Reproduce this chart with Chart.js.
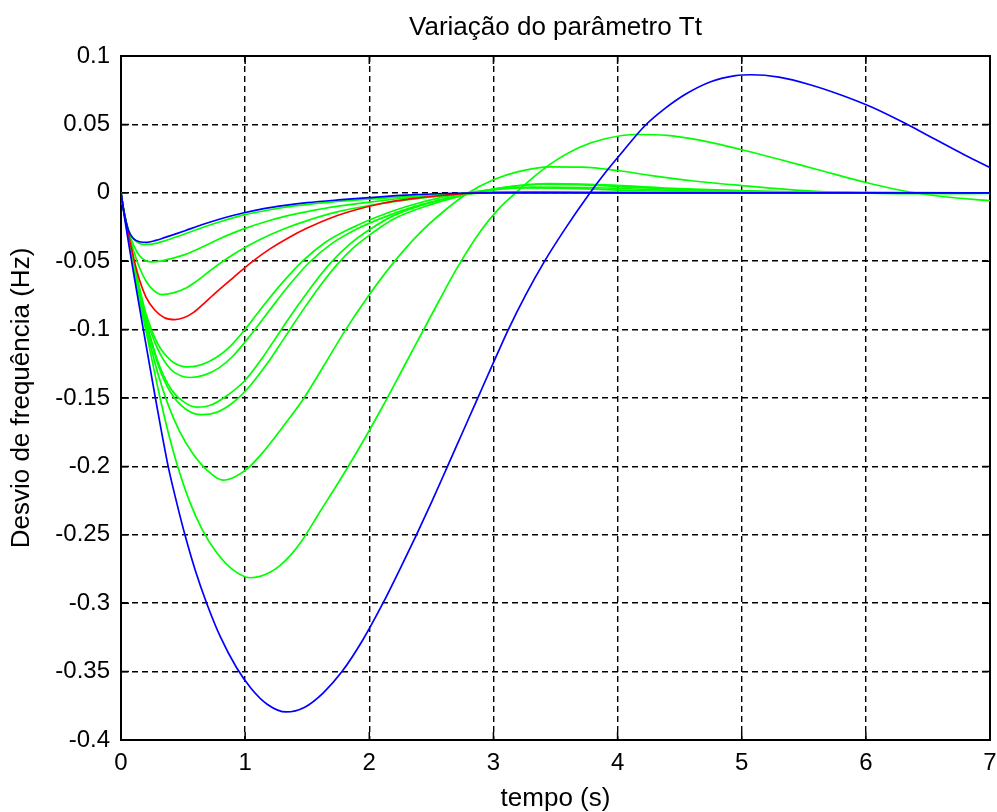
<!DOCTYPE html>
<html>
<head>
<meta charset="utf-8">
<script src="https://cdn.jsdelivr.net/npm/chart.js@4"></script>
<style>
  body { margin: 0; background: #fff; }
  #wrap { width: 997px; height: 812px; }
</style>
</head>
<body>
<div id="wrap"><canvas id="chart" width="997" height="812"></canvas></div>
<script>
// curves: time (s) and frequency deviation (Hz)
const tBlueBig = [0, 0.02, 0.06, 0.1, 0.18, 0.277, 0.38, 0.45, 0.515, 0.6, 0.69, 0.8, 0.93, 1.05, 1.18, 1.33, 1.48, 1.63, 1.78, 1.95, 2.11, 2.25, 2.38, 2.5, 2.63, 2.75, 2.87, 3.0, 3.12, 3.26, 3.41, 3.58, 3.76, 3.9, 4.05, 4.22, 4.38, 4.55, 4.75, 4.95, 5.08, 5.3, 5.55, 5.8, 6.05, 6.3, 6.55, 6.8, 7.0];
const vBlueBig = [0, -0.013, -0.036, -0.058, -0.1, -0.15, -0.2, -0.227, -0.25, -0.2765, -0.3, -0.3245, -0.347, -0.3625, -0.374, -0.3795, -0.376, -0.3655, -0.35, -0.3265, -0.3, -0.2745, -0.25, -0.2265, -0.2, -0.1754, -0.1508, -0.1242, -0.1, -0.0746, -0.0503, -0.026, -0.0024, 0.0146, 0.0311, 0.049, 0.0615, 0.0722, 0.0812, 0.0857, 0.0863, 0.0845, 0.079, 0.0715, 0.0625, 0.0515, 0.0395, 0.0275, 0.0185];

const tBlueSmall = [0, 0.02, 0.06, 0.1, 0.15, 0.207, 0.28, 0.35, 0.43, 0.516, 0.65, 0.785, 0.9, 1.0, 1.15, 1.32, 1.5, 1.75, 2.0, 2.3, 2.6, 3.0, 7.0];
const vBlueSmall = [0, -0.012, -0.0275, -0.0335, -0.0358, -0.0362, -0.0348, -0.0328, -0.0304, -0.0277, -0.0234, -0.0195, -0.0166, -0.0144, -0.0116, -0.0092, -0.0072, -0.0052, -0.0035, -0.0017, -0.0005, 0, 0];

const tRed = [0, 0.02, 0.06, 0.1, 0.15, 0.2, 0.27, 0.35, 0.435, 0.51, 0.585, 0.665, 0.746, 0.907, 1.055, 1.2, 1.35, 1.5, 1.7, 1.9, 2.1, 2.33, 2.6, 2.9, 3.3, 3.8, 4.5, 7.0];
const vRed = [0, -0.012, -0.03, -0.047, -0.064, -0.076, -0.0855, -0.0913, -0.0927, -0.0912, -0.0874, -0.0812, -0.0744, -0.0618, -0.0505, -0.041, -0.0328, -0.0258, -0.018, -0.0122, -0.0078, -0.0045, -0.0018, 0.0002, 0.0006, 0.0002, 0, 0];

const tG1 = [0, 0.02, 0.06, 0.1, 0.15, 0.19, 0.25, 0.35, 0.5, 0.65, 0.785, 1.0, 1.2, 1.4, 1.6, 1.8, 2.0, 2.3, 2.6, 3.0, 3.6, 4.5, 7.0];
const vG1 = [0, -0.012, -0.027, -0.0335, -0.037, -0.0378, -0.0375, -0.0352, -0.0305, -0.0255, -0.0215, -0.016, -0.0124, -0.0096, -0.0075, -0.0059, -0.0046, -0.0028, -0.0012, 0.0001, 0.0002, 0, 0];

const tG2 = [0, 0.02, 0.06, 0.1, 0.15, 0.2, 0.25, 0.33, 0.42, 0.52, 0.65, 0.785, 0.9, 1.0, 1.15, 1.32, 1.5, 1.75, 2.0, 2.3, 2.65, 3.0, 3.5, 4.2, 7.0];
const vG2 = [0, -0.012, -0.028, -0.038, -0.046, -0.0497, -0.0505, -0.0497, -0.0478, -0.045, -0.0398, -0.034, -0.0295, -0.026, -0.0215, -0.0172, -0.0138, -0.0098, -0.0068, -0.0038, -0.0012, 0.0003, 0.0004, 0.0001, 0];

const tG3 = [0, 0.02, 0.06, 0.1, 0.15, 0.2, 0.26, 0.33, 0.42, 0.52, 0.62, 0.72, 0.83, 0.95, 1.1, 1.3, 1.5, 1.75, 2.0, 2.3, 2.65, 3.0, 3.5, 4.2, 7.0];
const vG3 = [0, -0.012, -0.029, -0.042, -0.055, -0.0643, -0.0712, -0.0744, -0.0732, -0.0698, -0.0638, -0.0568, -0.0495, -0.0425, -0.035, -0.0268, -0.0203, -0.0138, -0.0093, -0.0052, -0.0018, 0.0002, 0.0005, 0.0001, 0];

const tG4 = [0, 0.02, 0.06, 0.1, 0.15, 0.2, 0.3, 0.4, 0.47, 0.54, 0.65, 0.77, 0.88, 1.0, 1.15, 1.3, 1.46, 1.65, 1.85, 2.05, 2.3, 2.6, 2.9, 3.2, 3.6, 4.2, 5.0, 6.0, 7.0];
const vG4 = [0, -0.012, -0.03, -0.048, -0.07, -0.088, -0.111, -0.1225, -0.1262, -0.1273, -0.1256, -0.1202, -0.1122, -0.0998, -0.0822, -0.0657, -0.0501, -0.036, -0.026, -0.018, -0.01, -0.003, 0.0015, 0.0035, 0.0032, 0.0015, 0.0004, 0, 0];

const tG5 = [0, 0.02, 0.06, 0.1, 0.15, 0.2, 0.3, 0.4, 0.48, 0.556, 0.67, 0.79, 0.9, 1.04, 1.2, 1.35, 1.51, 1.7, 1.9, 2.1, 2.35, 2.65, 2.95, 3.3, 3.9, 4.6, 5.5, 7.0];
const vG5 = [0, -0.012, -0.03, -0.049, -0.071, -0.09, -0.115, -0.129, -0.1338, -0.135, -0.1333, -0.128, -0.1195, -0.1045, -0.0855, -0.068, -0.0515, -0.037, -0.0265, -0.0185, -0.0105, -0.0035, 0.0015, 0.0042, 0.0035, 0.0013, 0.0002, 0];

const tG6 = [0, 0.02, 0.06, 0.1, 0.15, 0.2, 0.3, 0.4, 0.5, 0.61, 0.72, 0.85, 1.0, 1.14, 1.28, 1.42, 1.56, 1.69, 1.85, 2.0, 2.2, 2.5, 2.8, 3.1, 3.4, 3.8, 4.5, 5.2, 6.0, 7.0];
const vG6 = [0, -0.012, -0.031, -0.05, -0.073, -0.093, -0.124, -0.143, -0.1525, -0.1567, -0.1553, -0.1485, -0.137, -0.1205, -0.1015, -0.083, -0.0655, -0.051, -0.037, -0.027, -0.0165, -0.007, -0.0005, 0.004, 0.0063, 0.0055, 0.0025, 0.0008, 0.0001, 0];

const tG7 = [0, 0.02, 0.06, 0.1, 0.15, 0.2, 0.3, 0.4, 0.52, 0.65, 0.77, 0.9, 1.04, 1.18, 1.32, 1.46, 1.6, 1.74, 1.88, 2.0, 2.2, 2.5, 2.8, 3.1, 3.45, 3.9, 4.5, 5.2, 6.0, 7.0];
const vG7 = [0, -0.012, -0.031, -0.05, -0.074, -0.094, -0.126, -0.146, -0.158, -0.1622, -0.1605, -0.1535, -0.141, -0.1245, -0.1055, -0.0865, -0.0685, -0.0525, -0.0395, -0.031, -0.019, -0.0085, -0.001, 0.0042, 0.0068, 0.0058, 0.003, 0.001, 0.0002, 0];

const tG8 = [0, 0.02, 0.06, 0.1, 0.15, 0.22, 0.3, 0.38, 0.47, 0.57, 0.69, 0.82, 0.92, 1.02, 1.15, 1.3, 1.47, 1.64, 1.81, 2.0, 2.2, 2.4, 2.6, 2.78, 3.0, 3.2, 3.46, 3.72, 4.0, 4.26, 4.6, 5.0, 5.47, 5.8, 6.4, 7.0];
const vG8 = [0, -0.012, -0.032, -0.052, -0.077, -0.105, -0.133, -0.155, -0.174, -0.1895, -0.2025, -0.21, -0.2075, -0.2015, -0.189, -0.1715, -0.1505, -0.1255, -0.1, -0.0745, -0.0505, -0.03, -0.0135, -0.001, 0.0095, 0.0155, 0.019, 0.0188, 0.0163, 0.0128, 0.0088, 0.0053, 0.0018, 0.0003, -0.0007, -0.0005];

const tG9 = [0, 0.02, 0.06, 0.1, 0.15, 0.21, 0.31, 0.38, 0.45, 0.55, 0.65, 0.77, 0.9, 1.04, 1.12, 1.2, 1.28, 1.37, 1.46, 1.6, 1.75, 1.9, 2.1, 2.3, 2.5, 2.71, 2.9, 3.05, 3.18, 3.35, 3.5, 3.7, 3.9, 4.15, 4.4, 4.7, 5.0, 5.3, 5.6, 6.0, 6.3, 6.6, 7.0];
const vG9 = [0, -0.012, -0.033, -0.054, -0.079, -0.105, -0.148, -0.175, -0.198, -0.225, -0.2455, -0.263, -0.2755, -0.2814, -0.2804, -0.2774, -0.2725, -0.2645, -0.254, -0.2335, -0.212, -0.1895, -0.1575, -0.1235, -0.0895, -0.0545, -0.0275, -0.011, 0, 0.0135, 0.0235, 0.0335, 0.0395, 0.0426, 0.042, 0.0378, 0.0315, 0.0245, 0.0172, 0.0075, 0.0015, -0.0025, -0.0058];

const xTicks = [0, 1, 2, 3, 4, 5, 6, 7];

const FONT = "'Liberation Sans', Arial, sans-serif";
const BLUE = '#0000ff', GREEN = '#00ff00', RED = '#ff0000';

function pts(t, v) {
  return t.map((x, i) => ({ x: x, y: v[i] }));
}

function line(t, v, color) {
  return {
    data: pts(t, v),
    borderColor: color,
    borderWidth: 1.7,
    pointRadius: 0,
    fill: false,
    cubicInterpolationMode: 'monotone'
  };
}

// box round the axes, with short inward tick marks like the original
const frame = {
  id: 'frame',
  beforeDatasetsDraw(chart) {
    const { ctx, chartArea: a, scales: { x, y } } = chart;
    ctx.save();
    ctx.strokeStyle = '#000';
    ctx.lineWidth = 2;
    ctx.strokeRect(a.left, a.top, a.right - a.left, a.bottom - a.top);
    ctx.lineWidth = 1.5;
    ctx.beginPath();
    x.ticks.forEach(t => {
      const px = x.getPixelForValue(t.value);
      ctx.moveTo(px, a.top); ctx.lineTo(px, a.top + 8);
      ctx.moveTo(px, a.bottom); ctx.lineTo(px, a.bottom - 8);
    });
    y.ticks.forEach(t => {
      const py = y.getPixelForValue(t.value);
      ctx.moveTo(a.left, py); ctx.lineTo(a.left + 8, py);
      ctx.moveTo(a.right, py); ctx.lineTo(a.right - 8, py);
    });
    ctx.stroke();
    ctx.restore();
  }
};

new Chart(document.getElementById('chart'), {
  type: 'line',
  data: {
    // first dataset is drawn on top
    datasets: [
      line(tBlueSmall, vBlueSmall, BLUE),
      line(tBlueBig, vBlueBig, BLUE),
      line(tRed, vRed, RED),
      line(tG1, vG1, GREEN),
      line(tG2, vG2, GREEN),
      line(tG3, vG3, GREEN),
      line(tG4, vG4, GREEN),
      line(tG5, vG5, GREEN),
      line(tG6, vG6, GREEN),
      line(tG7, vG7, GREEN),
      line(tG8, vG8, GREEN),
      line(tG9, vG9, GREEN)
    ]
  },
  options: {
    responsive: false,
    animation: false,
    layout: { padding: { left: 0, right: 7, top: 0, bottom: 0 } },
    plugins: {
      legend: { display: false },
      tooltip: { enabled: false },
      title: {
        display: true,
        fullSize: false,
        text: 'Variação do parâmetro Tt',
        color: '#000',
        font: { family: FONT, size: 26, weight: 'normal', lineHeight: 1 },
        padding: { top: 15, bottom: 15 }
      }
    },
    scales: {
      x: {
        type: 'linear',
        min: 0,
        max: 7,
        afterBuildTicks: s => { s.ticks = xTicks.map(v => ({ value: v })); },
        afterFit: s => { s.height = 72; s.paddingLeft = 0; s.paddingRight = 0; },
        ticks: {
          color: '#000',
          font: { family: FONT, size: 24, lineHeight: 1 },
          padding: 11,
          maxRotation: 0,
          autoSkip: false,
          callback: v => String(v)
        },
        grid: { color: '#000', lineWidth: 1.4, drawTicks: false },
        border: { display: true, color: '#000', width: 2, dash: [6, 4] },
        title: {
          display: true,
          text: 'tempo (s)',
          color: '#000',
          font: { family: FONT, size: 26, lineHeight: 1 },
          padding: { top: 0, bottom: 0 }
        }
      },
      y: {
        type: 'linear',
        min: -0.4,
        max: 0.1,
        afterFit: s => { s.width = 121; },
        ticks: {
          stepSize: 0.05,
          color: '#000',
          font: { family: FONT, size: 24, lineHeight: 1 },
          padding: 11,
          autoSkip: false,
          callback: v => String(parseFloat(Number(v).toFixed(2)))
        },
        grid: { color: '#000', lineWidth: 1.4, drawTicks: false },
        border: { display: true, color: '#000', width: 2, dash: [6, 4] },
        title: {
          display: true,
          text: 'Desvio de frequência (Hz)',
          color: '#000',
          font: { family: FONT, size: 26, lineHeight: 1 },
          padding: { top: 9, bottom: 0 }
        }
      }
    }
  },
  plugins: [frame]
});
</script>
</body>
</html>
